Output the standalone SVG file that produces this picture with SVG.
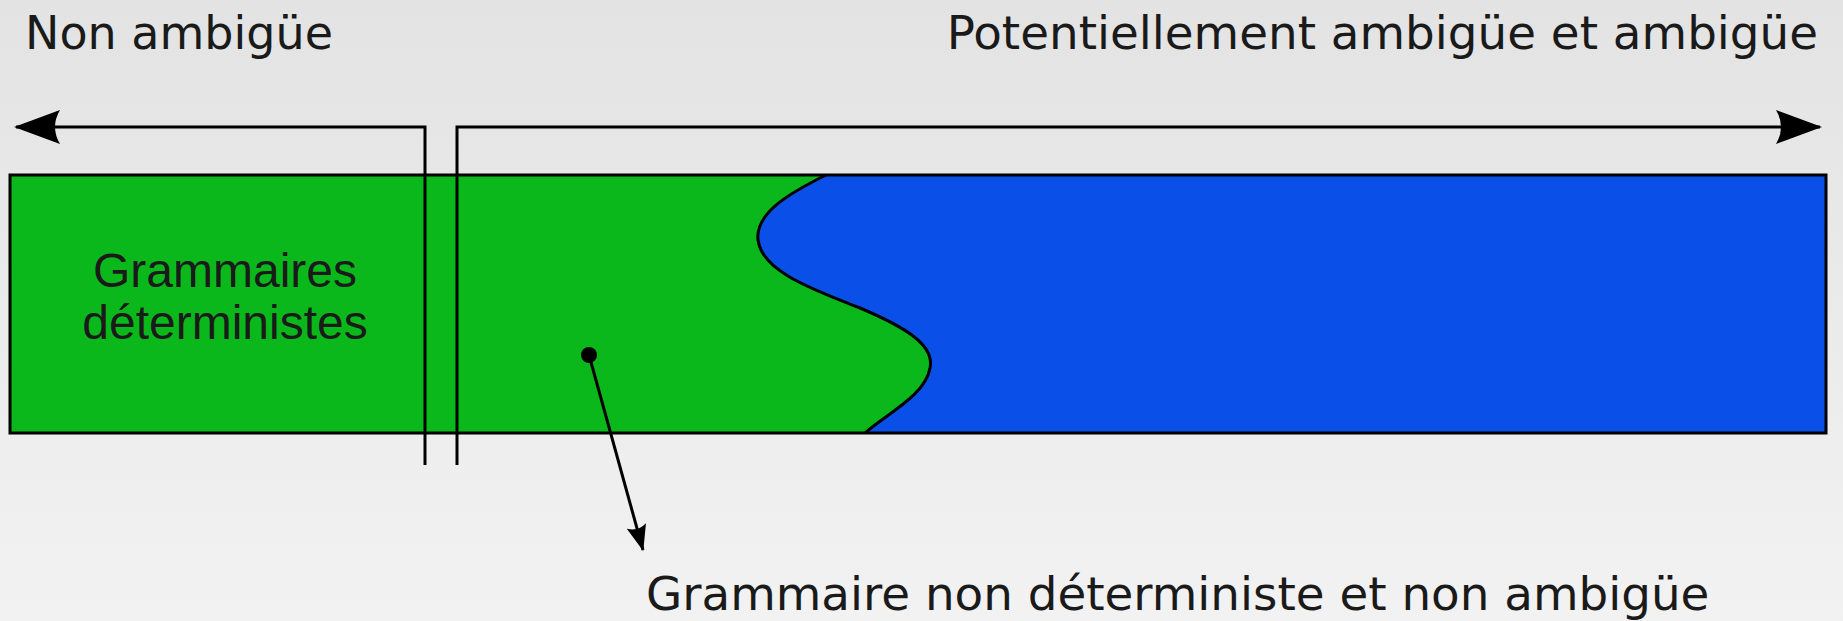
<svg xmlns="http://www.w3.org/2000/svg" width="1843" height="621" viewBox="0 0 1843 621">
<defs>
<linearGradient id="bg" x1="0" y1="0" x2="0" y2="1">
<stop offset="0" stop-color="#e3e3e3"/>
<stop offset="1" stop-color="#f2f2f2"/>
</linearGradient>
<marker id="bigArrow" viewBox="0 0 46 34" refX="44" refY="17" markerWidth="46" markerHeight="34" markerUnits="userSpaceOnUse" orient="auto">
<path d="M46,17 L0,0 Q10,17 0,34 Z" fill="#000"/>
</marker>
<marker id="smallArrow" viewBox="0 0 26 20" refX="25" refY="10" markerWidth="26" markerHeight="20" markerUnits="userSpaceOnUse" orient="auto">
<path d="M26,10 L0,0 Q6,10 0,20 Z" fill="#000"/>
</marker>
<style>
.lbl{font-family:"DejaVu Sans",sans-serif;fill:#1a1a1a}
.inner{font-family:"Liberation Sans",Arial,sans-serif;fill:#1a1a1a;font-size:48px;text-anchor:middle}
.ln{fill:none;stroke:#000;stroke-width:3}
</style>
</defs>
<rect width="1843" height="621" fill="url(#bg)"/>
<g id="bar">
<rect x="10" y="175" width="1816" height="258" fill="#0ab81b"/>
<path d="M826,175 C792,192 755,212 758,240 C762,272 815,290 860,308 C905,327 935,345 930,368 C926,395 885,415 865,433 L1826,433 L1826,175 Z" fill="#0a50e8"/>
<path class="ln" d="M826,175 C792,192 755,212 758,240 C762,272 815,290 860,308 C905,327 935,345 930,368 C926,395 885,415 865,433"/>
<rect class="ln" x="10" y="175" width="1816" height="258"/>
</g>
<g id="deterministes">
<text class="inner" x="225" y="287">Grammaires</text>
<text class="inner" x="225" y="339">déterministes</text>
</g>
<g id="non-ambigue">
<text class="lbl" x="25" y="49" font-size="46">Non ambigüe</text>
</g>
<g id="potentiellement">
<text class="lbl" x="1818" y="49" font-size="46.8" text-anchor="end">Potentiellement ambigüe et ambigüe</text>
</g>
<g id="non-det">
<text class="lbl" x="646" y="610" font-size="46.8">Grammaire non déterministe et non ambigüe</text>
</g>
<g id="connectors">
<path class="ln" d="M425,465 L425,127 L16,127" marker-end="url(#bigArrow)"/>
<path class="ln" d="M457,465 L457,127 L1820,127" marker-end="url(#bigArrow)"/>
<circle cx="589" cy="355" r="8" fill="#000"/>
<path class="ln" d="M589,355 L643,550" marker-end="url(#smallArrow)"/>
</g>
</svg>
